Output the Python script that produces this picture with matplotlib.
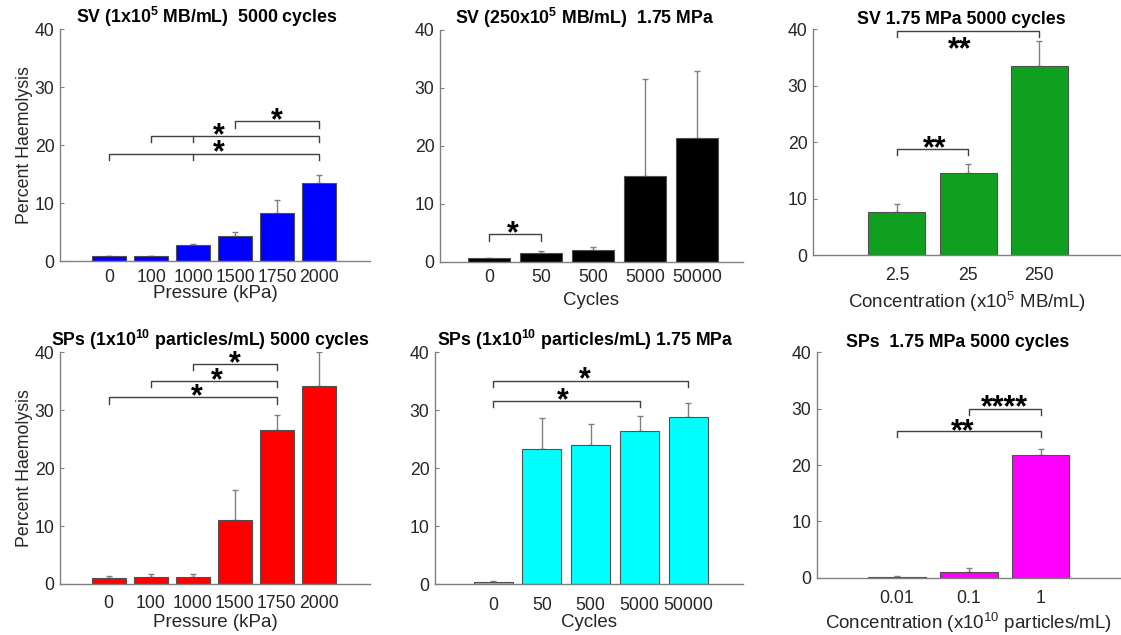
import matplotlib
matplotlib.use("Agg")
import matplotlib.pyplot as plt

plt.rcParams["font.family"] = ["Liberation Sans", "DejaVu Sans"]
plt.rcParams["mathtext.default"] = "regular"

# %% data
pressure_labels = ["0", "100", "1000", "1500", "1750", "2000"]
cycle_labels = ["0", "50", "500", "5000", "50000"]
mb_conc_labels = ["2.5", "25", "250"]
sp_conc_labels = ["0.01", "0.1", "1"]

sv_pressure_mean = [0.8, 0.8, 2.7, 4.3, 8.2, 13.4]
sv_pressure_err = [0.1, 0.1, 0.3, 0.7, 2.3, 1.5]
sv_cycles_mean = [0.6, 1.55, 2.0, 14.7, 21.4]
sv_cycles_err = [0.1, 0.25, 0.5, 16.8, 11.5]
sv_conc_mean = [7.6, 14.5, 33.4]
sv_conc_err = [1.4, 1.7, 4.5]

sp_pressure_mean = [1.1, 1.15, 1.27, 11.05, 26.5, 34.1]
sp_pressure_err = [0.35, 0.55, 0.45, 5.15, 2.7, 5.9]
sp_cycles_mean = [0.45, 23.3, 24.1, 26.4, 28.9]
sp_cycles_err = [0.15, 5.4, 3.6, 2.6, 2.3]
sp_conc_mean = [0.2, 0.95, 21.8]
sp_conc_err = [0.1, 0.7, 1.1]

# brackets: (first bar, last bar, height, extra tick bars, label, label x, label y)
sv_pressure_sig = [(4, 6, 24.1, [], "*", 4.98, 25.4),
                   (2, 6, 21.6, [3], "*", 3.6, 22.7),
                   (1, 6, 18.5, [3], "*", 3.6, 19.8)]
sv_cycles_sig = [(1, 2, 4.7, [], "*", 1.46, 6.0)]
sv_conc_sig = [(1, 2, 18.8, [], "**", 1.53, 20.1),
               (1, 3, 39.6, [], "**", 1.88, 37.5)]
sp_pressure_sig = [(3, 5, 38.0, [], "*", 4.01, 39.2),
                   (2, 5, 35.1, [], "*", 3.57, 36.3),
                   (1, 5, 32.2, [], "*", 3.1, 33.5)]
sp_cycles_sig = [(1, 5, 35.1, [], "*", 2.88, 36.5),
                 (1, 4, 31.6, [], "*", 2.42, 32.9)]
sp_conc_sig = [(2, 3, 29.9, [], "****", 2.49, 31.4),
               (1, 3, 26.0, [], "**", 1.92, 27.1)]

W, H = 1121, 635
fig = plt.figure(figsize=(W / 100, H / 100), dpi=100)
STAR_FS = 22


def make_axes(x0, x1, ytop, ybot):
    return fig.add_axes([x0 / W, 1 - ybot / H, (x1 - x0) / W, (ybot - ytop) / H])


def panel(ax, labels, mean, err, color, sig, xlim, title, title_x, xlabel,
          tickpad, labelpad, ylabel=None):
    pos = list(range(1, len(mean) + 1))
    ax.errorbar(pos, mean, yerr=[[0] * len(err), err], fmt="none",
                ecolor="#808080", elinewidth=1, capsize=2.5, capthick=1, zorder=1)
    ax.bar(pos, mean, width=0.8, color=color, edgecolor="#505050",
           linewidth=0.8, zorder=2)
    for a, b, y, extra, lab, lx, ly in sig:
        ax.plot([a, a, b, b], [y - 1.1, y, y, y - 1.1], color="#404040",
                lw=1, clip_on=False, zorder=3)
        for e in extra:
            ax.plot([e, e], [y, y - 1.1], color="#404040", lw=1, zorder=3)
        # asterisk glyph sits high in the em box, so anchor on baseline
        ax.annotate(lab, (lx, ly), xytext=(0, -0.5 * STAR_FS),
                    textcoords="offset points", ha="center", va="baseline",
                    fontsize=STAR_FS, fontweight="bold", color="black",
                    annotation_clip=False)
    ax.set_xlim(*xlim)
    ax.set_ylim(0, 40)
    ax.set_yticks([0, 10, 20, 30, 40])
    ax.set_xticks(pos)
    ax.set_xticklabels(labels)
    for s in ["top", "right"]:
        ax.spines[s].set_visible(False)
    for s in ["left", "bottom"]:
        ax.spines[s].set_color("#808080")
        ax.spines[s].set_linewidth(1)
    ax.tick_params(direction="in", length=3, color="#808080",
                   labelsize=12.7, labelcolor="#262626", pad=4)
    ax.tick_params(axis="x", length=0, pad=tickpad)
    ax.set_title(title, fontsize=12.8, fontweight="bold", pad=3.5, x=title_x)
    ax.set_xlabel(xlabel, fontsize=13.5, color="#262626", labelpad=labelpad)
    if ylabel:
        ax.set_ylabel(ylabel, fontsize=12.8, color="#262626", labelpad=1)


ax1 = make_axes(60, 370, 29, 261)
panel(ax1, pressure_labels, sv_pressure_mean, sv_pressure_err, "#0000ff",
      sv_pressure_sig, (-0.17, 7.21), "SV (1x10$^{5}$ MB/mL)  5000 cycles", 0.473,
      "Pressure (kPa)", 6, -1, "Percent Haemolysis")

ax2 = make_axes(440, 743, 29.7, 261.7)
panel(ax2, cycle_labels, sv_cycles_mean, sv_cycles_err, "#000000",
      sv_cycles_sig, (0.06, 5.89), "SV (250x10$^{5}$ MB/mL)  1.75 MPa", 0.476,
      "Cycles", 5.5, 4.3)

ax3 = make_axes(813, 1121, 29, 255.3)
panel(ax3, mb_conc_labels, sv_conc_mean, sv_conc_err, "#10a020",
      sv_conc_sig, (-0.18, 4.15), "SV 1.75 MPa 5000 cycles", 0.483,
      "Concentration (x10$^{5}$ MB/mL)", 8.7, 4.3)

ax4 = make_axes(60, 370, 352.3, 584)
panel(ax4, pressure_labels, sp_pressure_mean, sp_pressure_err, "#ff0000",
      sp_pressure_sig, (-0.16, 7.22), "SPs (1x10$^{10}$ particles/mL) 5000 cycles",
      0.484, "Pressure (kPa)", 8.2, 1.2, "Percent Haemolysis")

ax5 = make_axes(435, 743, 352.3, 584.3)
panel(ax5, cycle_labels, sp_cycles_mean, sp_cycles_err, "#00ffff",
      sp_cycles_sig, (-0.19, 6.12), "SPs (1x10$^{10}$ particles/mL) 1.75 MPa",
      0.489, "Cycles", 9.2, 0)

ax6 = make_axes(816.7, 1121, 352.3, 577.7)
panel(ax6, sp_conc_labels, sp_conc_mean, sp_conc_err, "#ff00ff",
      sp_conc_sig, (-0.12, 4.12), "SPs  1.75 MPa 5000 cycles", 0.464,
      "Concentration (x10$^{10}$ particles/mL)", 8.9, 2.5)

fig.savefig("out.png", dpi=100)
